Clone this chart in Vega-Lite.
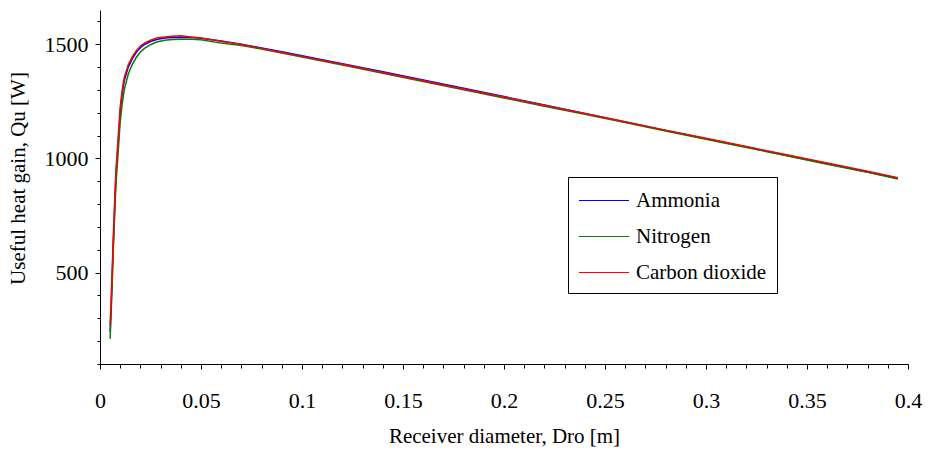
{
  "$schema": "https://vega.github.io/schema/vega-lite/v6.json",
  "width": 808,
  "height": 354,
  "autosize": {"type": "none"},
  "padding": {"left": 100, "top": 10, "right": 26, "bottom": 86},
  "background": "white",
  "config": {
    "view": {"stroke": null},
    "font": "Liberation Serif",
    "axis": {"domainColor": "black", "tickColor": "black", "labelColor": "black", "titleColor": "black", "grid": false, "labelFont": "Liberation Serif", "titleFont": "Liberation Serif", "titleFontWeight": "normal"}
  },
  "datasets": {
    "curves": [
      {"D": 0.005, "Q": 240, "fluid": "Ammonia"},
      {"D": 0.0055, "Q": 350, "fluid": "Ammonia"},
      {"D": 0.006, "Q": 470, "fluid": "Ammonia"},
      {"D": 0.0065, "Q": 610, "fluid": "Ammonia"},
      {"D": 0.007, "Q": 720, "fluid": "Ammonia"},
      {"D": 0.0075, "Q": 840, "fluid": "Ammonia"},
      {"D": 0.008, "Q": 940, "fluid": "Ammonia"},
      {"D": 0.009, "Q": 1070, "fluid": "Ammonia"},
      {"D": 0.01, "Q": 1205, "fluid": "Ammonia"},
      {"D": 0.011, "Q": 1285, "fluid": "Ammonia"},
      {"D": 0.012, "Q": 1340, "fluid": "Ammonia"},
      {"D": 0.014, "Q": 1400, "fluid": "Ammonia"},
      {"D": 0.016, "Q": 1437, "fluid": "Ammonia"},
      {"D": 0.018, "Q": 1465, "fluid": "Ammonia"},
      {"D": 0.02, "Q": 1485, "fluid": "Ammonia"},
      {"D": 0.022, "Q": 1499, "fluid": "Ammonia"},
      {"D": 0.025, "Q": 1512, "fluid": "Ammonia"},
      {"D": 0.028, "Q": 1521, "fluid": "Ammonia"},
      {"D": 0.032, "Q": 1527, "fluid": "Ammonia"},
      {"D": 0.036, "Q": 1530, "fluid": "Ammonia"},
      {"D": 0.04, "Q": 1531, "fluid": "Ammonia"},
      {"D": 0.045, "Q": 1530, "fluid": "Ammonia"},
      {"D": 0.05, "Q": 1526, "fluid": "Ammonia"},
      {"D": 0.06, "Q": 1514, "fluid": "Ammonia"},
      {"D": 0.07, "Q": 1500, "fluid": "Ammonia"},
      {"D": 0.08, "Q": 1484, "fluid": "Ammonia"},
      {"D": 0.09, "Q": 1467, "fluid": "Ammonia"},
      {"D": 0.1, "Q": 1450, "fluid": "Ammonia"},
      {"D": 0.12, "Q": 1415, "fluid": "Ammonia"},
      {"D": 0.14, "Q": 1380, "fluid": "Ammonia"},
      {"D": 0.16, "Q": 1344, "fluid": "Ammonia"},
      {"D": 0.18, "Q": 1307, "fluid": "Ammonia"},
      {"D": 0.2, "Q": 1271, "fluid": "Ammonia"},
      {"D": 0.22, "Q": 1234, "fluid": "Ammonia"},
      {"D": 0.24, "Q": 1197, "fluid": "Ammonia"},
      {"D": 0.26, "Q": 1160, "fluid": "Ammonia"},
      {"D": 0.28, "Q": 1123, "fluid": "Ammonia"},
      {"D": 0.3, "Q": 1086, "fluid": "Ammonia"},
      {"D": 0.32, "Q": 1050, "fluid": "Ammonia"},
      {"D": 0.34, "Q": 1013, "fluid": "Ammonia"},
      {"D": 0.36, "Q": 977, "fluid": "Ammonia"},
      {"D": 0.38, "Q": 941, "fluid": "Ammonia"},
      {"D": 0.395, "Q": 913, "fluid": "Ammonia"},
      {"D": 0.005, "Q": 210, "fluid": "Nitrogen"},
      {"D": 0.0055, "Q": 320, "fluid": "Nitrogen"},
      {"D": 0.006, "Q": 440, "fluid": "Nitrogen"},
      {"D": 0.0065, "Q": 580, "fluid": "Nitrogen"},
      {"D": 0.007, "Q": 690, "fluid": "Nitrogen"},
      {"D": 0.0075, "Q": 810, "fluid": "Nitrogen"},
      {"D": 0.008, "Q": 900, "fluid": "Nitrogen"},
      {"D": 0.009, "Q": 1030, "fluid": "Nitrogen"},
      {"D": 0.01, "Q": 1160, "fluid": "Nitrogen"},
      {"D": 0.011, "Q": 1240, "fluid": "Nitrogen"},
      {"D": 0.012, "Q": 1300, "fluid": "Nitrogen"},
      {"D": 0.014, "Q": 1370, "fluid": "Nitrogen"},
      {"D": 0.016, "Q": 1412, "fluid": "Nitrogen"},
      {"D": 0.018, "Q": 1443, "fluid": "Nitrogen"},
      {"D": 0.02, "Q": 1466, "fluid": "Nitrogen"},
      {"D": 0.022, "Q": 1482, "fluid": "Nitrogen"},
      {"D": 0.025, "Q": 1498, "fluid": "Nitrogen"},
      {"D": 0.028, "Q": 1510, "fluid": "Nitrogen"},
      {"D": 0.032, "Q": 1518, "fluid": "Nitrogen"},
      {"D": 0.036, "Q": 1521, "fluid": "Nitrogen"},
      {"D": 0.04, "Q": 1522, "fluid": "Nitrogen"},
      {"D": 0.045, "Q": 1522, "fluid": "Nitrogen"},
      {"D": 0.05, "Q": 1520, "fluid": "Nitrogen"},
      {"D": 0.06, "Q": 1505, "fluid": "Nitrogen"},
      {"D": 0.07, "Q": 1494, "fluid": "Nitrogen"},
      {"D": 0.08, "Q": 1479, "fluid": "Nitrogen"},
      {"D": 0.09, "Q": 1462, "fluid": "Nitrogen"},
      {"D": 0.1, "Q": 1444, "fluid": "Nitrogen"},
      {"D": 0.12, "Q": 1409, "fluid": "Nitrogen"},
      {"D": 0.14, "Q": 1373, "fluid": "Nitrogen"},
      {"D": 0.16, "Q": 1337, "fluid": "Nitrogen"},
      {"D": 0.18, "Q": 1301, "fluid": "Nitrogen"},
      {"D": 0.2, "Q": 1265, "fluid": "Nitrogen"},
      {"D": 0.22, "Q": 1229, "fluid": "Nitrogen"},
      {"D": 0.24, "Q": 1193, "fluid": "Nitrogen"},
      {"D": 0.26, "Q": 1157, "fluid": "Nitrogen"},
      {"D": 0.28, "Q": 1120, "fluid": "Nitrogen"},
      {"D": 0.3, "Q": 1084, "fluid": "Nitrogen"},
      {"D": 0.32, "Q": 1048, "fluid": "Nitrogen"},
      {"D": 0.34, "Q": 1012, "fluid": "Nitrogen"},
      {"D": 0.36, "Q": 975, "fluid": "Nitrogen"},
      {"D": 0.38, "Q": 939, "fluid": "Nitrogen"},
      {"D": 0.395, "Q": 910, "fluid": "Nitrogen"},
      {"D": 0.005, "Q": 270, "fluid": "Carbon dioxide"},
      {"D": 0.0055, "Q": 380, "fluid": "Carbon dioxide"},
      {"D": 0.006, "Q": 500, "fluid": "Carbon dioxide"},
      {"D": 0.0065, "Q": 640, "fluid": "Carbon dioxide"},
      {"D": 0.007, "Q": 750, "fluid": "Carbon dioxide"},
      {"D": 0.0075, "Q": 870, "fluid": "Carbon dioxide"},
      {"D": 0.008, "Q": 960, "fluid": "Carbon dioxide"},
      {"D": 0.009, "Q": 1090, "fluid": "Carbon dioxide"},
      {"D": 0.01, "Q": 1225, "fluid": "Carbon dioxide"},
      {"D": 0.011, "Q": 1300, "fluid": "Carbon dioxide"},
      {"D": 0.012, "Q": 1355, "fluid": "Carbon dioxide"},
      {"D": 0.014, "Q": 1410, "fluid": "Carbon dioxide"},
      {"D": 0.016, "Q": 1445, "fluid": "Carbon dioxide"},
      {"D": 0.018, "Q": 1472, "fluid": "Carbon dioxide"},
      {"D": 0.02, "Q": 1492, "fluid": "Carbon dioxide"},
      {"D": 0.022, "Q": 1505, "fluid": "Carbon dioxide"},
      {"D": 0.025, "Q": 1518, "fluid": "Carbon dioxide"},
      {"D": 0.028, "Q": 1527, "fluid": "Carbon dioxide"},
      {"D": 0.032, "Q": 1532, "fluid": "Carbon dioxide"},
      {"D": 0.036, "Q": 1535, "fluid": "Carbon dioxide"},
      {"D": 0.04, "Q": 1537, "fluid": "Carbon dioxide"},
      {"D": 0.045, "Q": 1532, "fluid": "Carbon dioxide"},
      {"D": 0.05, "Q": 1527, "fluid": "Carbon dioxide"},
      {"D": 0.06, "Q": 1513, "fluid": "Carbon dioxide"},
      {"D": 0.07, "Q": 1499, "fluid": "Carbon dioxide"},
      {"D": 0.08, "Q": 1482, "fluid": "Carbon dioxide"},
      {"D": 0.09, "Q": 1464, "fluid": "Carbon dioxide"},
      {"D": 0.1, "Q": 1447, "fluid": "Carbon dioxide"},
      {"D": 0.12, "Q": 1412, "fluid": "Carbon dioxide"},
      {"D": 0.14, "Q": 1376, "fluid": "Carbon dioxide"},
      {"D": 0.16, "Q": 1340, "fluid": "Carbon dioxide"},
      {"D": 0.18, "Q": 1304, "fluid": "Carbon dioxide"},
      {"D": 0.2, "Q": 1269, "fluid": "Carbon dioxide"},
      {"D": 0.22, "Q": 1233, "fluid": "Carbon dioxide"},
      {"D": 0.24, "Q": 1197, "fluid": "Carbon dioxide"},
      {"D": 0.26, "Q": 1161, "fluid": "Carbon dioxide"},
      {"D": 0.28, "Q": 1124, "fluid": "Carbon dioxide"},
      {"D": 0.3, "Q": 1088, "fluid": "Carbon dioxide"},
      {"D": 0.32, "Q": 1052, "fluid": "Carbon dioxide"},
      {"D": 0.34, "Q": 1016, "fluid": "Carbon dioxide"},
      {"D": 0.36, "Q": 980, "fluid": "Carbon dioxide"},
      {"D": 0.38, "Q": 944, "fluid": "Carbon dioxide"},
      {"D": 0.395, "Q": 916, "fluid": "Carbon dioxide"}
    ]
  },
  "data": {"name": "curves"},
  "mark": {"type": "line", "strokeWidth": 1.5, "interpolate": "linear"},
  "encoding": {
    "x": {
      "field": "D", "type": "quantitative",
      "scale": {"domain": [0, 0.4], "nice": false, "zero": false},
      "axis": {
        "title": "Receiver diameter, Dro [m]",
        "titleFontSize": 21,
        "titlePadding": 14,
        "values": [0, 0.01, 0.02, 0.03, 0.04, 0.05, 0.06, 0.07, 0.08, 0.09, 0.1, 0.11, 0.12, 0.13, 0.14, 0.15, 0.16, 0.17, 0.18, 0.19, 0.2, 0.21, 0.22, 0.23, 0.24, 0.25, 0.26, 0.27, 0.28, 0.29, 0.3, 0.31, 0.32, 0.33, 0.34, 0.35, 0.36, 0.37, 0.38, 0.39, 0.4],
        "labelExpr": "round(datum.value * 100) % 5 === 0 ? format(datum.value, '~g') : ''",
        "labelFontSize": 22,
        "labelPadding": 21,
        "labelFlush": false,
        "labelOverlap": false,
        "tickSize": {"condition": {"test": "round(datum.value * 100) % 5 === 0", "value": 5}, "value": 4}
      }
    },
    "y": {
      "field": "Q", "type": "quantitative",
      "scale": {"domain": [100, 1650], "nice": false, "zero": false},
      "axis": {
        "title": "Useful heat gain, Qu [W]",
        "titleFontSize": 21,
        "titleY": 168,
        "titlePadding": 16,
        "values": [100, 200, 300, 400, 500, 600, 700, 800, 900, 1000, 1100, 1200, 1300, 1400, 1500, 1600],
        "labelExpr": "datum.value % 500 === 0 ? format(datum.value, 'd') : ''",
        "labelFontSize": 22,
        "labelPadding": 7,
        "labelOverlap": false,
        "tickSize": {"condition": {"test": "datum.value % 500 === 0", "value": 5}, "value": 3}
      }
    },
    "color": {
      "field": "fluid", "type": "nominal",
      "scale": {"domain": ["Ammonia", "Nitrogen", "Carbon dioxide"], "range": ["#0000ff", "#008000", "#ff0000"]},
      "legend": {
        "title": null,
        "orient": "none",
        "legendX": 468,
        "legendY": 167,
        "symbolType": "M-1,0H3",
        "symbolSize": 625,
        "symbolStrokeWidth": 1.2,
        "labelFont": "Liberation Serif",
        "labelFontSize": 21,
        "labelColor": "black",
        "labelOffset": 31,
        "rowPadding": 12,
        "padding": 10,
        "strokeColor": "black",
        "fillColor": "white",
        "labelLimit": 300
      }
    },
    "order": {"field": "fluid", "sort": "descending"}
  }
}
